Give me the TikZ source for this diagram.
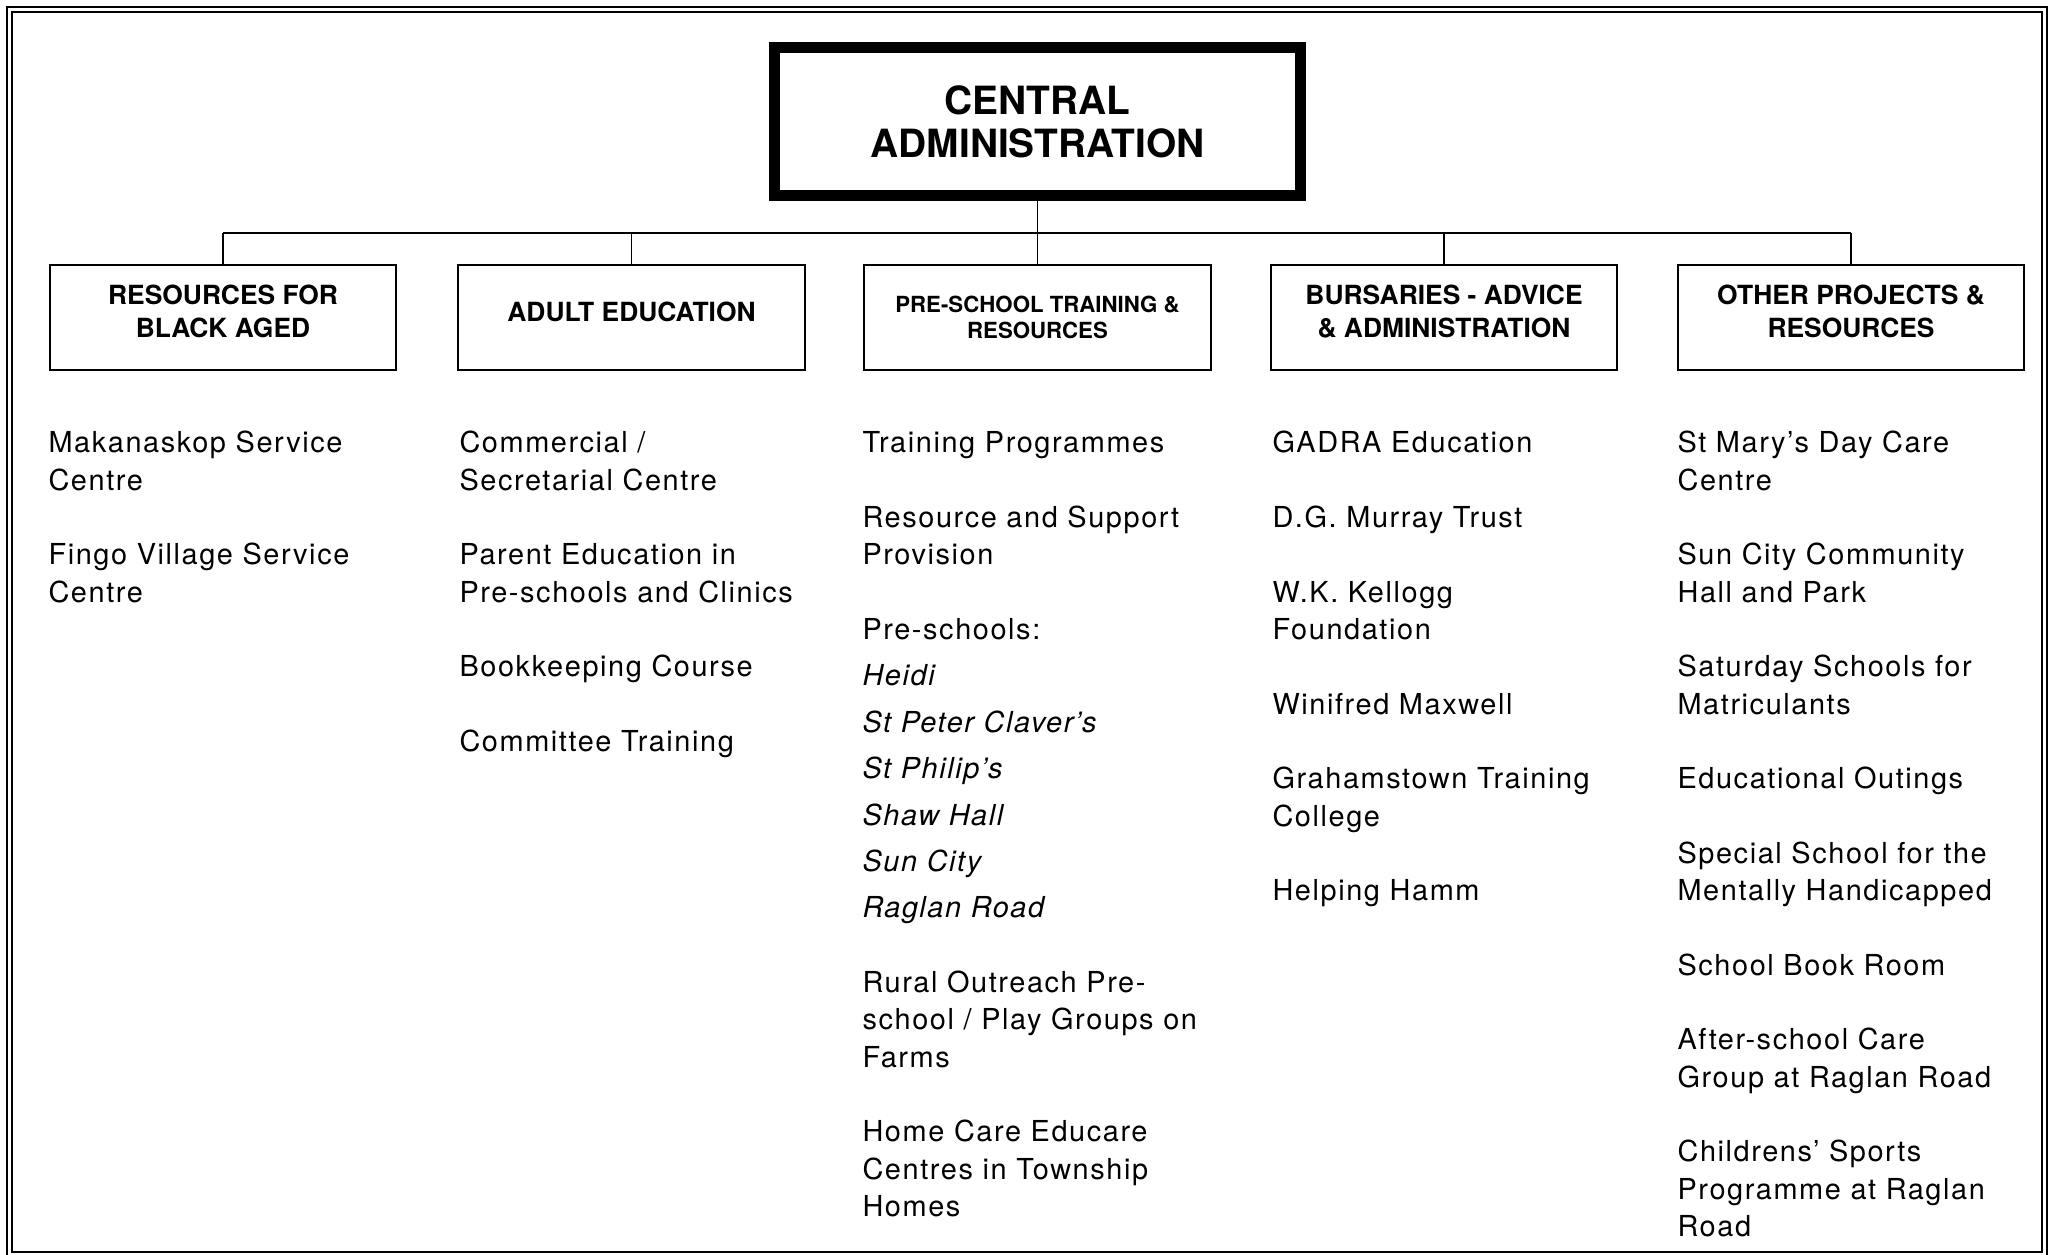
\documentclass[tikz,border=0pt]{standalone}
\usepackage{fontspec}
\setmainfont{TeX Gyre Heros}
\newfontfamily\entryfont[LetterSpace=5.5]{TeX Gyre Heros}
\usetikzlibrary{positioning}

\begin{document}
\begin{tikzpicture}[x=0.36pt,y=0.36pt,
  adminbox/.style={draw,line width=4pt,minimum width=189.3pt,minimum height=53.2pt,
    align=center,inner sep=0pt,font=\bfseries\fontsize{14}{15.5}\selectfont},
  headbox/.style={draw,line width=0.8pt,minimum width=124.8pt,minimum height=37.7pt,
    align=center,inner sep=0pt,text depth=4.5pt,font=\bfseries\fontsize{9.5}{11.6}\selectfont},
  itemtext/.style={anchor=base west,inner sep=0pt,font=\entryfont\fontsize{10.4}{13.4}\selectfont},
  link/.style={line width=0.7pt}]
\useasboundingbox (0,0) rectangle (2050,-1255);

% double frame
\draw[line width=0.7pt] (7,-1262) -- (7,-7) -- (2047,-7) -- (2047,-1262);
\draw[line width=0.7pt] (12,-1252) -- (12,-12) -- (2042,-12) -- (2042,-1252) -- cycle;

% top of the tree
\node[adminbox] (admin) at (1037.5,-121.5) {CENTRAL\\ADMINISTRATION};

\node[headbox] (aged) at (223,-317.5) {RESOURCES FOR\\BLACK AGED};
\node[headbox] (adult) at (631.5,-317.5) {ADULT EDUCATION};
\node[headbox,text depth=0pt,font=\bfseries\fontsize{8}{9.4}\selectfont] (pre) at (1037.5,-317.5) {PRE-SCHOOL TRAINING \&\\RESOURCES};
\node[headbox] (burs) at (1444,-317.5) {BURSARIES - ADVICE\\\& ADMINISTRATION};
\node[headbox] (other) at (1851,-317.5) {OTHER PROJECTS \&\\RESOURCES};

\coordinate (bus) at (1037.5,-233);
\draw[link] (admin.south) -- (bus);
\draw[link] (bus -| aged) -- (bus -| other);
\foreach \b in {aged,adult,pre,burs,other}
  \draw[link] (bus -| \b) -- (\b.north);

% lists under each heading, one line per node
\foreach \k/\t in {0/{Makanaskop Service},1/Centre,3/{Fingo Village Service},4/Centre}
  \node[itemtext] (aged-\k) at (48,{-453-37.3*\k}) {\t};

\foreach \k/\t in {0/{Commercial /},1/{Secretarial Centre},3/{Parent Education in},
    4/{Pre-schools and Clinics},6/{Bookkeeping Course},8/{Committee Training}}
  \node[itemtext] (adult-\k) at (459,{-453-37.3*\k}) {\t};

\foreach \k/\t in {0/{Training Programmes},2/{Resource and Support},3/Provision,5/{Pre-schools:}}
  \node[itemtext] (pre-\k) at (862,{-453-37.3*\k}) {\t};
\foreach \t [count=\i] in {Heidi,{St Peter Claver’s},{St Philip’s},{Shaw Hall},{Sun City},{Raglan Road}}
  \node[itemtext] (school-\i) at (862,{-639.5-46.4*\i}) {\itshape\t};
\foreach \y/\t [count=\i] in {992.5/{Rural Outreach Pre-},1029.8/{school / Play Groups on},1067.1/Farms,
    1141.7/{Home Care Educare},1179/{Centres in Township},1216.3/Homes}
  \node[itemtext] (farm-\i) at (862,-\y) {\t};

\foreach \k/\t in {0/{GADRA Education},2/{D.G. Murray Trust},4/{W.K. Kellogg},5/Foundation,
    7/{Winifred Maxwell},9/{Grahamstown Training},10/College,12/{Helping Hamm}}
  \node[itemtext] (burs-\k) at (1272,{-453-37.3*\k}) {\t};

\foreach \k/\t in {0/{St Mary’s Day Care},1/Centre,3/{Sun City Community},4/{Hall and Park},
    6/{Saturday Schools for},7/Matriculants,9/{Educational Outings},11/{Special School for the},
    12/{Mentally Handicapped},14/{School Book Room},16/{After-school Care},17/{Group at Raglan Road},
    19/{Childrens’ Sports},20/{Programme at Raglan},21/Road}
  \node[itemtext] (other-\k) at (1677,{-453-37.3*\k}) {\t};
\end{tikzpicture}
\end{document}
